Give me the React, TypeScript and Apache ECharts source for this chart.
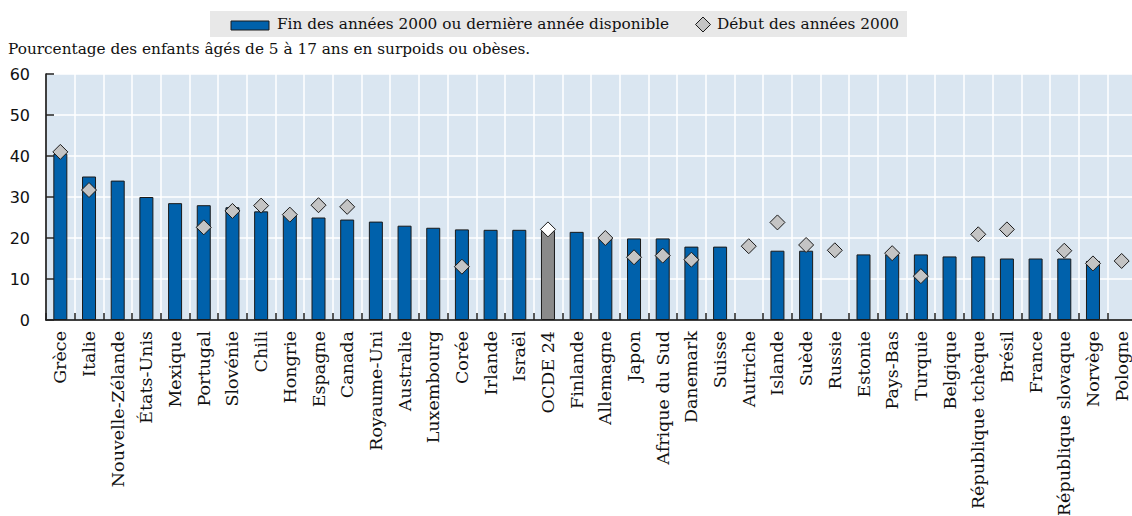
import React, { useEffect, useRef } from "react";
import * as echarts from "echarts";

const categories = [
  "Grèce", "Italie", "Nouvelle-Zélande", "États-Unis", "Mexique", "Portugal", "Slovénie", "Chili",
  "Hongrie", "Espagne", "Canada", "Royaume-Uni", "Australie", "Luxembourg", "Corée", "Irlande",
  "Israël", "OCDE 24", "Finlande", "Allemagne", "Japon", "Afrique du Sud", "Danemark", "Suisse",
  "Autriche", "Islande", "Suède", "Russie", "Estonie", "Pays-Bas", "Turquie", "Belgique",
  "République tchèque", "Brésil", "France", "République slovaque", "Norvège", "Pologne",
];

const recentValues: (number | null)[] = [
  40.5, 35.0, 34.0, 30.0, 28.5, 28.0, 27.5, 26.5,
  25.5, 25.0, 24.5, 24.0, 23.0, 22.5, 22.1, 22.0,
  22.0, 21.7, 21.5, 19.9, 19.9, 19.9, 17.9, 17.9,
  null, 16.9, 16.9, null, 16.0, 16.0, 16.0, 15.5,
  15.5, 15.0, 15.0, 15.0, 14.4, null,
];

const earlyValues: (number | null)[] = [
  41.0, 31.7, null, null, null, 22.6, 26.6, 27.9,
  25.7, 28.0, 27.6, null, null, null, 13.0, null,
  null, 22.1, null, 20.0, 15.3, 15.7, 14.7, null,
  18.0, 23.8, 18.3, 17.0, null, 16.3, 10.7, null,
  20.9, 22.1, null, 16.9, 13.8, 14.4,
];

const highlight = "OCDE 24";
const seriesNames = ["Fin des années 2000 ou dernière année disponible", "Début des années 2000"];
const subtitle = "Pourcentage des enfants âgés de 5 à 17 ans en surpoids ou obèses.";

const BLUE = "#0061ab";
const GREY_BAR = "#8a8a8a";
const DIAMOND = "#c4c4c4";
const SERIF = "'DejaVu Serif', serif";
const SANS = "'DejaVu Sans', sans-serif";

export default function App() {
  const ref = useRef<HTMLDivElement>(null);
  useEffect(() => {
    if (!ref.current) return;
    const chart = echarts.init(ref.current, undefined, { renderer: "svg" });
    const barData = recentValues.map((v, i) =>
      categories[i] === highlight
        ? { value: v, itemStyle: { color: GREY_BAR } }
        : v
    );
    const dotData = earlyValues.map((v, i) =>
      categories[i] === highlight
        ? { value: v, itemStyle: { color: "#ffffff" } }
        : v
    );
    chart.setOption({
      animation: false,
      grid: {
        left: 46,
        top: 74,
        width: 1090,
        bottom: 196,
        show: true,
        backgroundColor: "#dae6f1",
        borderWidth: 0,
        containLabel: false,
        outerBoundsMode: "none",
      },
      graphic: [
        { type: "rect", shape: { x: 210, y: 11, width: 697, height: 26 }, style: { fill: "#e8e8e8" } },
        { type: "rect", shape: { x: 231, y: 21, width: 38, height: 9 }, style: { fill: BLUE, stroke: "#1a1a1a", lineWidth: 1 } },
        { type: "text", x: 277, y: 24, style: { text: seriesNames[0], font: `15.3px ${SERIF}`, fill: "#111", verticalAlign: "middle" } },
        { type: "polygon", shape: { points: [[703, 17], [710.5, 24.5], [703, 32], [695.5, 24.5]] }, style: { fill: DIAMOND, stroke: "#1a1a1a", lineWidth: 1 } },
        { type: "text", x: 717, y: 24, style: { text: seriesNames[1], font: `15.3px ${SERIF}`, fill: "#111", verticalAlign: "middle" } },
        { type: "text", x: 8, y: 49, style: { text: subtitle, font: `15.3px ${SERIF}`, fill: "#111", verticalAlign: "middle" } },
      ],
      xAxis: {
        type: "category",
        data: categories,
        boundaryGap: true,
        axisLine: { show: true, lineStyle: { color: "#000", width: 1.5 } },
        axisTick: { show: true, inside: true, length: 7, lineStyle: { color: "#222", width: 1.5 } },
        splitLine: { show: true, lineStyle: { color: "#ffffff", width: 1.5 } },
        axisLabel: {
          rotate: 90,
          interval: 0,
          margin: 11,
          fontFamily: SERIF,
          fontSize: 17.5,
          color: "#111",
          hideOverlap: false,
        },
      },
      yAxis: {
        type: "value",
        min: 0,
        max: 60,
        interval: 10,
        axisLine: { show: true, lineStyle: { color: "#000", width: 1.5 } },
        axisTick: { show: true, inside: true, length: 8, lineStyle: { color: "#222", width: 1.5 } },
        splitLine: { show: true, lineStyle: { color: "#ffffff", width: 1.5 } },
        axisLabel: { fontFamily: SANS, fontSize: 16, color: "#111", margin: 16 },
      },
      series: [
        {
          name: seriesNames[0],
          type: "bar",
          data: barData,
          barWidth: 14,
          itemStyle: { color: BLUE, borderColor: "#1a1a1a", borderWidth: 1 },
          z: 2,
        },
        {
          name: seriesNames[1],
          type: "scatter",
          data: dotData,
          symbol: "diamond",
          symbolSize: [15, 15],
          itemStyle: { color: DIAMOND, borderColor: "#1a1a1a", borderWidth: 1, opacity: 1 },
          z: 3,
        },
      ],
    });
    return () => chart.dispose();
  }, []);
  return (
    <div style={{ position: "fixed", left: 0, top: 0, width: 1132, height: 516, overflow: "hidden", background: "#fff" }}>
      <div ref={ref} style={{ width: 1150, height: 516 }} />
    </div>
  );
}
